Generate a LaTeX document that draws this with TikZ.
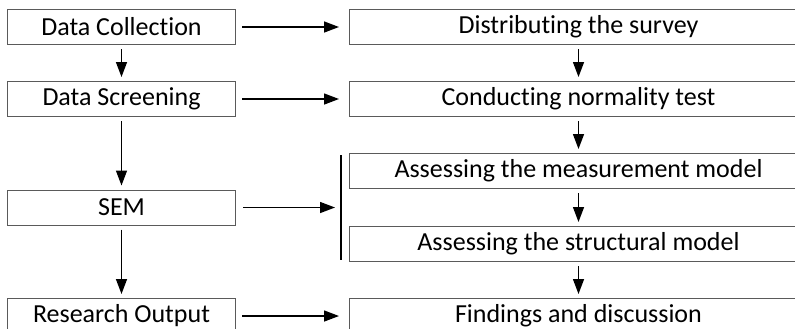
\documentclass[tikz,border=0pt]{standalone}
\usepackage{fontspec}
\setmainfont{Carlito}[Ligatures=NoCommon]
\usetikzlibrary{positioning,calc}
\usetikzlibrary{arrows.meta}
\definecolor{myframe}{RGB}{90,90,90}

\begin{document}
\begin{tikzpicture}[font=\fontsize{13}{15}\selectfont,
  lbox/.style={draw=myframe,line width=0.5pt,minimum width=114pt,minimum height=17.5pt,inner sep=0pt},
  rbox/.style={lbox,minimum width=229pt},
  arr/.style={-{Triangle[length=7.5pt,width=5.5pt]},line width=0.7pt},
  varr/.style={arr,shorten <=2pt,shorten >=2pt},
  harr/.style={arr,shorten <=3pt,shorten >=5pt}]

  \useasboundingbox (0,0) rectangle (397.5pt,-164pt);
  \clip (0,0) rectangle (397.5pt,-164pt);

  % right column
  \node[lbox,anchor=north west] (collect) at (3.5pt,-4.5pt) {Data Collection};
  \node[rbox,right=56.5pt of collect] (survey) {Distributing the survey};
  \node[rbox,below=18pt of survey] (normal) {Conducting normality test};
  \node[rbox,below=18pt of normal] (measure) {Assessing the measurement model};
  \node[rbox,below=18.5pt of measure] (struct) {Assessing the structural model};
  \node[rbox,below=18pt of struct] (findings) {Findings and discussion};

  % left column
  \node[lbox,below=18pt of collect] (screen) {Data Screening};
  \coordinate (mid) at ($(measure.south)!0.5!(struct.north)$);
  \node[lbox] (sem) at (collect |- mid) {SEM};
  \node[lbox] (output) at (collect |- findings) {Research Output};

  \coordinate (bartop) at ([xshift=-4pt,yshift=-1pt]measure.north west);
  \coordinate (barbot) at ([xshift=-4pt,yshift=1pt]struct.south west);
  \draw[line width=0.7pt] (bartop) -- (barbot);

  \draw[varr] (collect) -- (screen);
  \draw[varr] (screen) -- (sem);
  \draw[varr] (sem) -- (output);
  \draw[varr] (survey) -- (normal);
  \draw[varr] (normal) -- (measure);
  \draw[varr] (measure) -- (struct);
  \draw[varr] (struct) -- (findings);

  \draw[harr] (collect) -- (survey);
  \draw[harr] (screen) -- (normal);
  \draw[harr] (output) -- (findings);
  \draw[arr,shorten <=3.5pt,shorten >=3pt] (sem.east) -- (sem.east -| bartop);
\end{tikzpicture}
\end{document}
